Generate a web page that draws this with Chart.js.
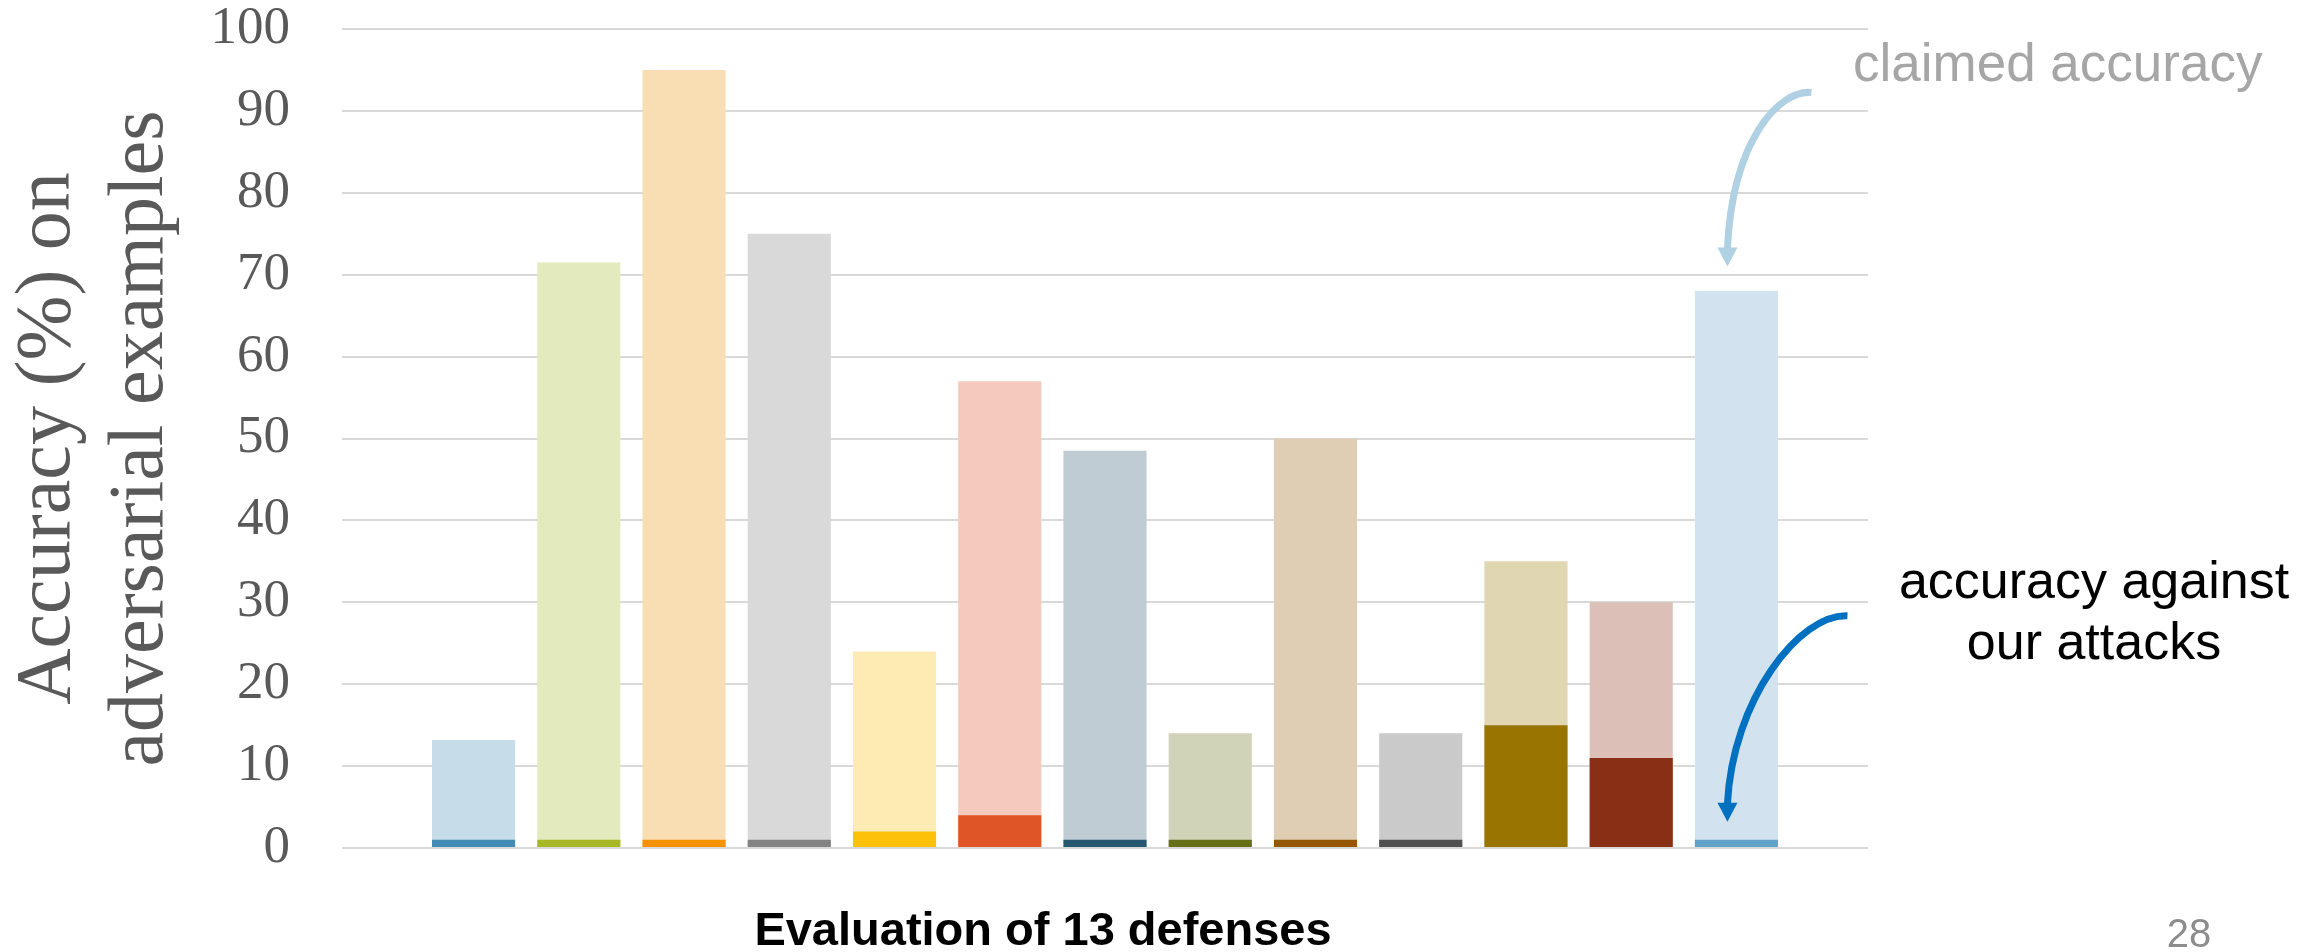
<!DOCTYPE html>
<html>
<head>
<meta charset="utf-8">
<script src="https://cdn.jsdelivr.net/npm/chart.js@4.4.1/dist/chart.umd.min.js"></script>
<style>
  html, body { margin: 0; padding: 0; background: #fff; }
  #wrap { width: 2312px; height: 952px; }
</style>
</head>
<body>
<div id="wrap"><canvas id="chart" width="2312" height="952"></canvas></div>
<script>
// 13 evaluated defenses (no names shown on the slide)
const defenses = ['D1', 'D2', 'D3', 'D4', 'D5', 'D6', 'D7', 'D8', 'D9', 'D10', 'D11', 'D12', 'D13'];
const claimedAccuracy = [13.2, 71.5, 95, 75, 24, 57, 48.5, 14, 50, 14, 35, 30, 68];
const attackAccuracy = [1, 1, 1, 1, 2, 4, 1, 1, 1, 1, 15, 11, 1];
const claimedColors = ['#C6DCE8', '#E3EABE', '#FADEB3', '#D9D9D9', '#FEEBB3', '#F5CABD', '#BFCCD4',
                       '#D1D3B9', '#DFCEB3', '#CACACA', '#E0D6B2', '#DCC0B7', '#D2E3EF'];
const attackColors = ['#418AB3', '#A6B828', '#F69200', '#838383', '#FEC10A', '#E05527', '#265870',
                      '#656F18', '#955701', '#505050', '#997500', '#892F16', '#62A4C9'];
const yTicks = [0, 10, 20, 30, 40, 50, 60, 70, 80, 90, 100];

const toPoints = arr => arr.map((v, i) => ({ x: i, y: v }));

function drawArrow(ctx, tip, p0, c1, c2, color, width) {
  const headLen = 19, headHalf = 10;
  ctx.strokeStyle = color;
  ctx.lineWidth = width;
  ctx.beginPath();
  ctx.moveTo(tip.x + p0[0], tip.y + p0[1]);
  ctx.bezierCurveTo(tip.x + c1[0], tip.y + c1[1], tip.x + c2[0], tip.y + c2[1], tip.x, tip.y - headLen + 1);
  ctx.stroke();
  ctx.fillStyle = color;
  ctx.beginPath();
  ctx.moveTo(tip.x, tip.y);
  ctx.lineTo(tip.x - headHalf, tip.y - headLen);
  ctx.lineTo(tip.x + headHalf, tip.y - headLen);
  ctx.closePath();
  ctx.fill();
}

const slideText = {
  id: 'slideText',
  afterDatasetsDraw(chart) {
    const { ctx, chartArea, scales } = chart;
    const x = scales.x, y = scales.y;
    ctx.save();

    // y axis title, two rotated lines
    ctx.fillStyle = '#595959';
    ctx.font = '78px "Liberation Serif", "Times New Roman", serif';
    ctx.textAlign = 'center';
    ctx.textBaseline = 'alphabetic';
    const midY = (chartArea.top + chartArea.bottom) / 2;
    [['Accuracy (%) on', 69], ['adversarial examples', 162]].forEach(([t, bx]) => {
      ctx.save();
      ctx.translate(bx, midY);
      ctx.rotate(-Math.PI / 2);
      ctx.fillText(t, 0, 0);
      ctx.restore();
    });

    // x axis title
    ctx.fillStyle = '#000';
    ctx.font = 'bold 47px "Liberation Sans", Arial, sans-serif';
    ctx.fillText('Evaluation of 13 defenses', 1043, chartArea.bottom + 97);

    // annotations
    ctx.fillStyle = '#A6A6A6';
    ctx.font = '53px "Liberation Sans", Arial, sans-serif';
    ctx.textAlign = 'left';
    ctx.fillText('claimed accuracy', chartArea.right - 15, 81);

    ctx.fillStyle = '#000';
    ctx.font = '52px "Liberation Sans", Arial, sans-serif';
    ctx.textAlign = 'center';
    ctx.fillText('accuracy against', chartArea.right + 226, 598);
    ctx.fillText('our attacks', chartArea.right + 226, 659);

    ctx.fillStyle = '#8C8C8C';
    ctx.font = '40px "Liberation Sans", Arial, sans-serif';
    ctx.fillText('28', 2189, 947);

    const last = defenses.length - 1;
    const tipClaimed = { x: x.getPixelForValue(last) - 9, y: y.getPixelForValue(71) };
    drawArrow(ctx, tipClaimed, [84, -174], [52, -177], [5, -127], '#B0D0E3', 7);
    const tipAttack = { x: x.getPixelForValue(last) - 9, y: y.getPixelForValue(3.2) };
    drawArrow(ctx, tipAttack, [120, -206], [72, -208], [5, -122], '#0070C0', 7);

    ctx.restore();
  }
};

new Chart(document.getElementById('chart').getContext('2d'), {
  type: 'bar',
  data: {
    labels: defenses,
    datasets: [
      { label: 'accuracy against our attacks', data: toPoints(attackAccuracy), backgroundColor: attackColors },
      { label: 'claimed accuracy', data: toPoints(claimedAccuracy), backgroundColor: claimedColors }
    ]
  },
  options: {
    responsive: false,
    animation: false,
    devicePixelRatio: 1,
    categoryPercentage: 1,
    barPercentage: 0.79,
    layout: { padding: { top: 0, right: 444, bottom: 104, left: 0 } },
    plugins: {
      legend: { display: false },
      tooltip: { enabled: false }
    },
    scales: {
      x: {
        type: 'linear',
        stacked: true,
        offset: false,
        min: -1.25,
        max: 13.25,
        display: false
      },
      y: {
        stacked: false,
        min: 0,
        max: 100,
        afterFit: scale => {
          scale.width = 342;
          scale.paddingTop = 29;
          scale.paddingBottom = 0;
        },
        afterBuildTicks: scale => { scale.ticks = yTicks.map(v => ({ value: v })); },
        border: { display: false },
        grid: { color: '#D9D9D9', lineWidth: 2, drawTicks: false },
        ticks: {
          padding: 52,
          color: '#595959',
          font: { family: '"Liberation Serif", "Times New Roman", serif', size: 53, lineHeight: 1.1 }
        }
      }
    }
  },
  plugins: [slideText]
});
</script>
</body>
</html>
